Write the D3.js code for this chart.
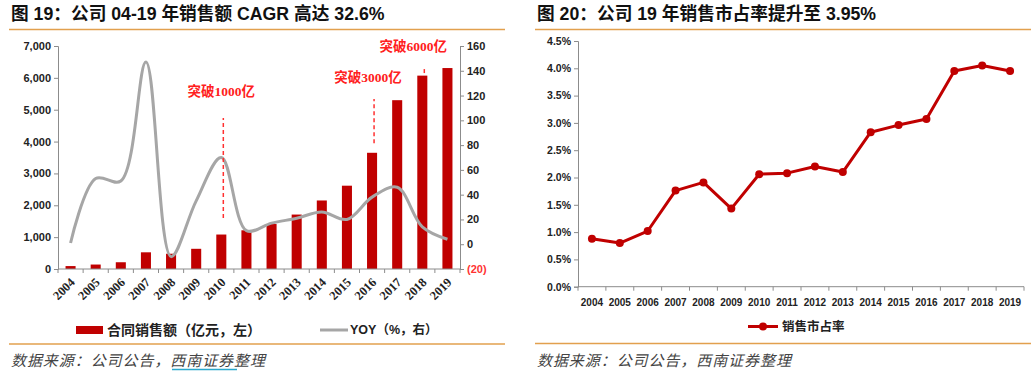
<!DOCTYPE html>
<html>
<head>
<meta charset="utf-8">
<style>
  body { margin: 0; background: #fff; }
  text { font-family: "Liberation Sans", "Noto Sans CJK SC", sans-serif; }
</style>
</head>
<body>
<script src="https://d3js.org/d3.v7.min.js"></script>
<script>
// ---- data ----
var years = ["2004","2005","2006","2007","2008","2009","2010","2011","2012","2013","2014","2015","2016","2017","2018","2019"];
var sales = [92, 140, 212, 524, 479, 634, 1082, 1215, 1412, 1709, 2151, 2615, 3648, 5299, 6070, 6308];
var yoy   = [1, 53, 51, 147, -10, 35, 70, 11, 17, 21, 26, 20, 38, 46, 14, 4];
var share = [0.88, 0.80, 1.02, 1.76, 1.91, 1.43, 2.06, 2.08, 2.20, 2.10, 2.83, 2.96, 3.07, 3.95, 4.05, 3.95];
var leftTicks  = [0, 1000, 2000, 3000, 4000, 5000, 6000, 7000];
var rightTicks = [-20, 0, 20, 40, 60, 80, 100, 120, 140, 160];
var shareTicks = [0, 0.5, 1, 1.5, 2, 2.5, 3, 3.5, 4, 4.5];
// milestone notes: year, label, dashed line from/to (left axis units)
var notes = [
  {year: "2010", label: "突破1000亿", from: 1600, to: 4740, dx: 0,  ty: 5590},
  {year: "2016", label: "突破3000亿", from: 3950, to: 5340, dx: -4, ty: 6010},
  {year: "2018", label: "突破6000亿", from: 6150, to: 6310, dx: -9, ty: 6990}
];

var W = 1036, H = 377;
var svg = d3.select("body").append("svg").attr("width", W).attr("height", H);

var orange = "#E2A04E", red = "#C00000", grey = "#A6A6A6", axisC = "#8C8C8C";

// ---- frames: titles, rules, source ----
function frame(x0, x1, title, ruleBottom) {
  svg.append("text").attr("x", x0 + 2).attr("y", 20)
    .style("font-size", "17.7px").style("font-weight", "bold").attr("fill", "#111")
    .text(title);
  svg.append("line").attr("x1", x0).attr("x2", x1).attr("y1", 29.5).attr("y2", 29.5)
    .attr("stroke", orange).attr("stroke-width", 1.5);
  svg.append("line").attr("x1", x0).attr("x2", x1).attr("y1", ruleBottom).attr("y2", ruleBottom)
    .attr("stroke", orange).attr("stroke-width", 1.5);
  svg.append("text").attr("x", x0 + 2).attr("y", 366)
    .style("font-size", "15px").style("font-style", "italic").attr("fill", "#444")
    .attr("textLength", 254).attr("lengthAdjust", "spacing")
    .text("数据来源：公司公告，西南证券整理");
}
frame(9, 505, "图 19：公司 04-19 年销售额 CAGR 高达 32.6%", 344);
frame(535, 1031, "图 20：公司 19 年销售市占率提升至 3.95%", 343.5);
svg.append("line").attr("x1", 172).attr("x2", 237).attr("y1", 369.5).attr("y2", 369.5)
  .attr("stroke", "#2BA8CC").attr("stroke-width", 1.5);

// ---- left chart ----
var x = d3.scaleBand().domain(years).range([58, 460]).paddingInner(0.6).paddingOuter(0.3);
var yL = d3.scaleLinear().domain([0, 7000]).range([269, 46]);
var yR = d3.scaleLinear().domain([-20, 160]).range([269, 46]);
var cx = function(d) { return x(d) + x.bandwidth() / 2; };

var g1 = svg.append("g");

g1.selectAll("rect.bar").data(years).enter().append("rect")
  .attr("class", "bar")
  .attr("x", function(d) { return x(d); })
  .attr("width", x.bandwidth())
  .attr("y", function(d, i) { return yL(sales[i]); })
  .attr("height", function(d, i) { return yL(0) - yL(sales[i]); })
  .attr("fill", red);

var yoyLine = d3.line().curve(d3.curveCatmullRom.alpha(0.5))
  .x(function(d, i) { return cx(years[i]); })
  .y(function(d) { return yR(d); });
g1.append("path").attr("d", yoyLine(yoy))
  .attr("fill", "none").attr("stroke", grey).attr("stroke-width", 3);

// axes
var axL = g1.append("g").attr("transform", "translate(58,0)")
  .call(d3.axisLeft(yL).tickValues(leftTicks).tickFormat(d3.format(",")).tickSize(4).tickPadding(3));
var axR = g1.append("g").attr("transform", "translate(460,0)")
  .call(d3.axisRight(yR).tickValues(rightTicks)
    .tickFormat(function(d) { return d < 0 ? "(" + (-d) + ")" : d; }).tickSize(4).tickPadding(3));
axR.selectAll(".tick text").attr("fill", function(d) { return d < 0 ? "#FF3333" : "#222"; });
[axL, axR].forEach(function(a) {
  a.select(".domain").attr("stroke", axisC);
  a.selectAll(".tick line").attr("stroke", axisC);
  a.selectAll(".tick text").style("font-size", "11px").style("font-weight", "bold");
});
axL.selectAll(".tick text").attr("fill", "#222");

// x axis with ticks on band borders
g1.append("line").attr("x1", 58).attr("x2", 460).attr("y1", yL(0)).attr("y2", yL(0)).attr("stroke", axisC);
g1.selectAll("line.xt").data(d3.range(years.length + 1)).enter().append("line")
  .attr("x1", function(i) { return 58 + i * x.step(); })
  .attr("x2", function(i) { return 58 + i * x.step(); })
  .attr("y1", yL(0)).attr("y2", yL(0) + 4).attr("stroke", axisC);
g1.selectAll("text.xl").data(years).enter().append("text")
  .attr("transform", function(d) { return "translate(" + (cx(d) + 2) + "," + (yL(0) + 11) + ") rotate(-45)"; })
  .attr("text-anchor", "end").attr("dy", "0.35em")
  .style("font-family", "'Liberation Serif', serif")
  .style("font-size", "12.5px").style("font-weight", "bold").attr("fill", "#222")
  .text(function(d) { return d; });

// milestones
notes.forEach(function(n) {
  g1.append("line").attr("x1", cx(n.year) + 2).attr("x2", cx(n.year) + 2)
    .attr("y1", yL(n.from)).attr("y2", yL(n.to))
    .attr("stroke", "#FF3030").attr("stroke-width", 1.5).attr("stroke-dasharray", "4,3");
  g1.append("text").attr("x", cx(n.year) + n.dx).attr("y", yL(n.ty))
    .attr("text-anchor", "middle").attr("dy", "0.35em")
    .style("font-family", "'Liberation Serif', 'Noto Sans CJK SC', serif")
    .style("font-size", "13.5px").style("font-weight", "bold").attr("fill", "#FF2020")
    .text(n.label);
});

// legend
g1.append("rect").attr("x", 76).attr("y", 326).attr("width", 27).attr("height", 8).attr("fill", red);
g1.append("text").attr("x", 107).attr("y", 330).attr("dy", "0.35em")
  .style("font-size", "14px").style("font-weight", "bold").attr("fill", "#222")
  .text("合同销售额（亿元，左）");
g1.append("line").attr("x1", 320).attr("x2", 348).attr("y1", 330).attr("y2", 330)
  .attr("stroke", grey).attr("stroke-width", 3);
g1.append("text").attr("x", 350).attr("y", 330).attr("dy", "0.35em")
  .style("font-size", "12.5px").style("font-weight", "bold").attr("fill", "#222")
  .text("YOY（%，右）");

// ---- right chart ----
var x2 = d3.scaleBand().domain(years).range([578, 1024]);
var y2 = d3.scaleLinear().domain([0, 4.5]).range([286.7, 41]);
var cx2 = function(d) { return x2(d) + x2.bandwidth() / 2; };
var g2 = svg.append("g");

var axY2 = g2.append("g").attr("transform", "translate(578,0)")
  .call(d3.axisLeft(y2).tickValues(shareTicks)
    .tickFormat(function(d) { return d3.format(".1f")(d) + "%"; }).tickSize(4).tickPadding(3));
axY2.select(".domain").attr("stroke", axisC);
axY2.selectAll(".tick line").attr("stroke", axisC);
axY2.selectAll(".tick text").style("font-size", "10.5px").style("font-weight", "bold").attr("fill", "#222");

g2.append("line").attr("x1", 578).attr("x2", 1024).attr("y1", y2(0)).attr("y2", y2(0)).attr("stroke", axisC);
g2.selectAll("line.xt").data(d3.range(years.length + 1)).enter().append("line")
  .attr("x1", function(i) { return 578 + i * x2.step(); })
  .attr("x2", function(i) { return 578 + i * x2.step(); })
  .attr("y1", y2(0)).attr("y2", y2(0) + 4).attr("stroke", axisC);
g2.selectAll("text.xl").data(years).enter().append("text")
  .attr("x", function(d) { return cx2(d); }).attr("y", y2(0) + 16)
  .attr("text-anchor", "middle").attr("dy", "0.35em")
  .style("font-size", "10px").style("font-weight", "bold").attr("fill", "#222")
  .text(function(d) { return d; });

var shareLine = d3.line()
  .x(function(d, i) { return cx2(years[i]); })
  .y(function(d) { return y2(d); });
g2.append("path").attr("d", shareLine(share))
  .attr("fill", "none").attr("stroke", red).attr("stroke-width", 3).attr("stroke-linejoin", "round");
g2.selectAll("circle.pt").data(share).enter().append("circle")
  .attr("cx", function(d, i) { return cx2(years[i]); })
  .attr("cy", function(d) { return y2(d); })
  .attr("r", 4).attr("fill", red);

// legend
g2.append("line").attr("x1", 748).attr("x2", 778).attr("y1", 326.5).attr("y2", 326.5)
  .attr("stroke", red).attr("stroke-width", 3);
g2.append("circle").attr("cx", 763).attr("cy", 326.5).attr("r", 4).attr("fill", red);
g2.append("text").attr("x", 782).attr("y", 326.5).attr("dy", "0.35em")
  .style("font-size", "12.5px").style("font-weight", "bold").attr("fill", "#222")
  .text("销售市占率");
</script>
</body>
</html>
